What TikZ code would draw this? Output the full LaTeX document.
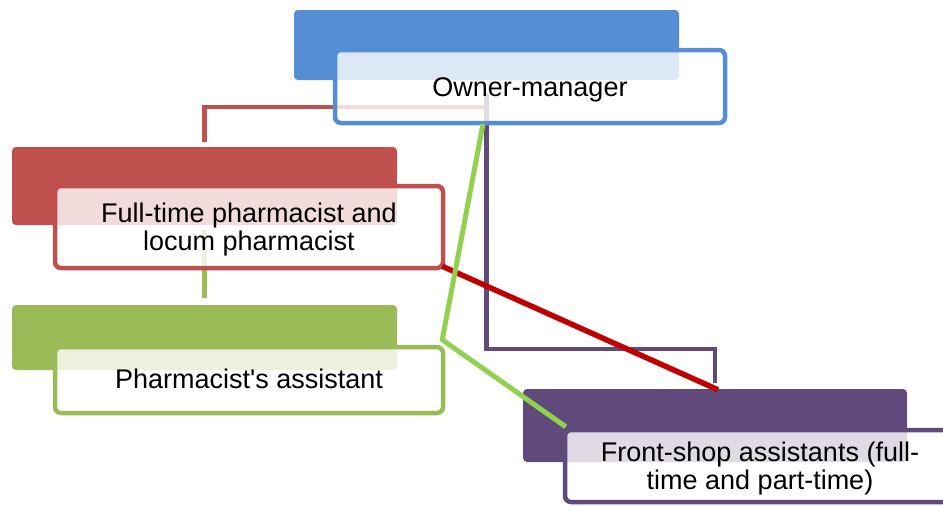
\documentclass[tikz,border=0pt]{standalone}
\usepackage{fontspec}
\setmainfont{Liberation Sans}
\usetikzlibrary{calc}
\definecolor{ownerblue}{HTML}{558ED5}
\definecolor{pharmred}{HTML}{C0504D}
\definecolor{assistgreen}{HTML}{9BBB59}
\definecolor{shoppurple}{HTML}{604A7B}
\definecolor{linkred}{HTML}{C00000}
\definecolor{linkgreen}{HTML}{92D050}
\begin{document}
\begin{tikzpicture}[x=1pt,y=-1pt,
  backbox/.style={rectangle, rounded corners=4pt, inner sep=0pt, fill=#1, draw=none},
  textbox/.style={rectangle, rounded corners=6pt, inner sep=0pt, draw=#1,
    line width=4.5pt, fill=white, fill opacity=0.8},
  boxlabel/.style={align=center, text opacity=1, fill opacity=1, inner sep=0pt,
    font=\fontsize{27}{28}\selectfont},
  elbow/.style={draw=#1, line width=4.5pt},
  link/.style={draw=#1, line width=5pt}
]
\fill[white] (0,0) rectangle (943,506);
\useasboundingbox (0,0) rectangle (943,506);

% coloured backing blocks
\node[backbox=ownerblue, minimum width=385pt, minimum height=70pt] (ownerback) at (486.5,45) {};
\node[backbox=pharmred, minimum width=385pt, minimum height=78pt] (redback) at (204.5,186) {};
\node[backbox=assistgreen, minimum width=385pt, minimum height=65pt] (greenback) at (204.5,337.5) {};
\node[backbox=shoppurple, minimum width=384pt, minimum height=73pt] (purpleback) at (715,425.5) {};

% elbow connectors running behind the text boxes
\coordinate (tapR) at (485,107);
\coordinate (pturn) at (486.5,349);
\draw[elbow=pharmred, shorten >=5pt] (tapR) -| (redback.north);
\draw[elbow=assistgreen, shorten >=7pt] (redback.north |- 0,230) -- (greenback.north);
\draw[elbow=shoppurple, shorten >=6pt] (ownerback.center |- 0,93) -- (pturn) -| (purpleback.north);

% text boxes
\node[textbox=ownerblue, minimum width=390pt, minimum height=73pt,
  label={[boxlabel, yshift=-3pt]center:Owner-manager}] (owner) at (530,86.5) {};
\node[textbox=pharmred, minimum width=388pt, minimum height=82pt,
  label={[boxlabel, yshift=-3pt]center:{Full-time pharmacist and\\locum pharmacist}}] (red) at (249,227) {};
\node[textbox=assistgreen, minimum width=388pt, minimum height=66pt,
  label={[boxlabel, yshift=1pt]center:{Pharmacist\textquotesingle s assistant}}] (green) at (249,380) {};
\node[textbox=shoppurple, minimum width=390pt, minimum height=72pt,
  label={[boxlabel, yshift=-3pt]center:{Front-shop assistants (full-\\time and part-time)}}] (purple) at (760,466) {};

% straight links
\draw[link=linkred, line width=5.5pt] ($(red.south east)+(-3,-4)$) -- ($(purpleback.north)+(3,1)$);
\coordinate (gtop) at (483,124);
\draw[link=linkgreen, line join=round] (gtop) -- ($(green.north east)+(-3,-5)$) -- ($(purple.north west)+(3,-1)$);
\end{tikzpicture}
\end{document}
